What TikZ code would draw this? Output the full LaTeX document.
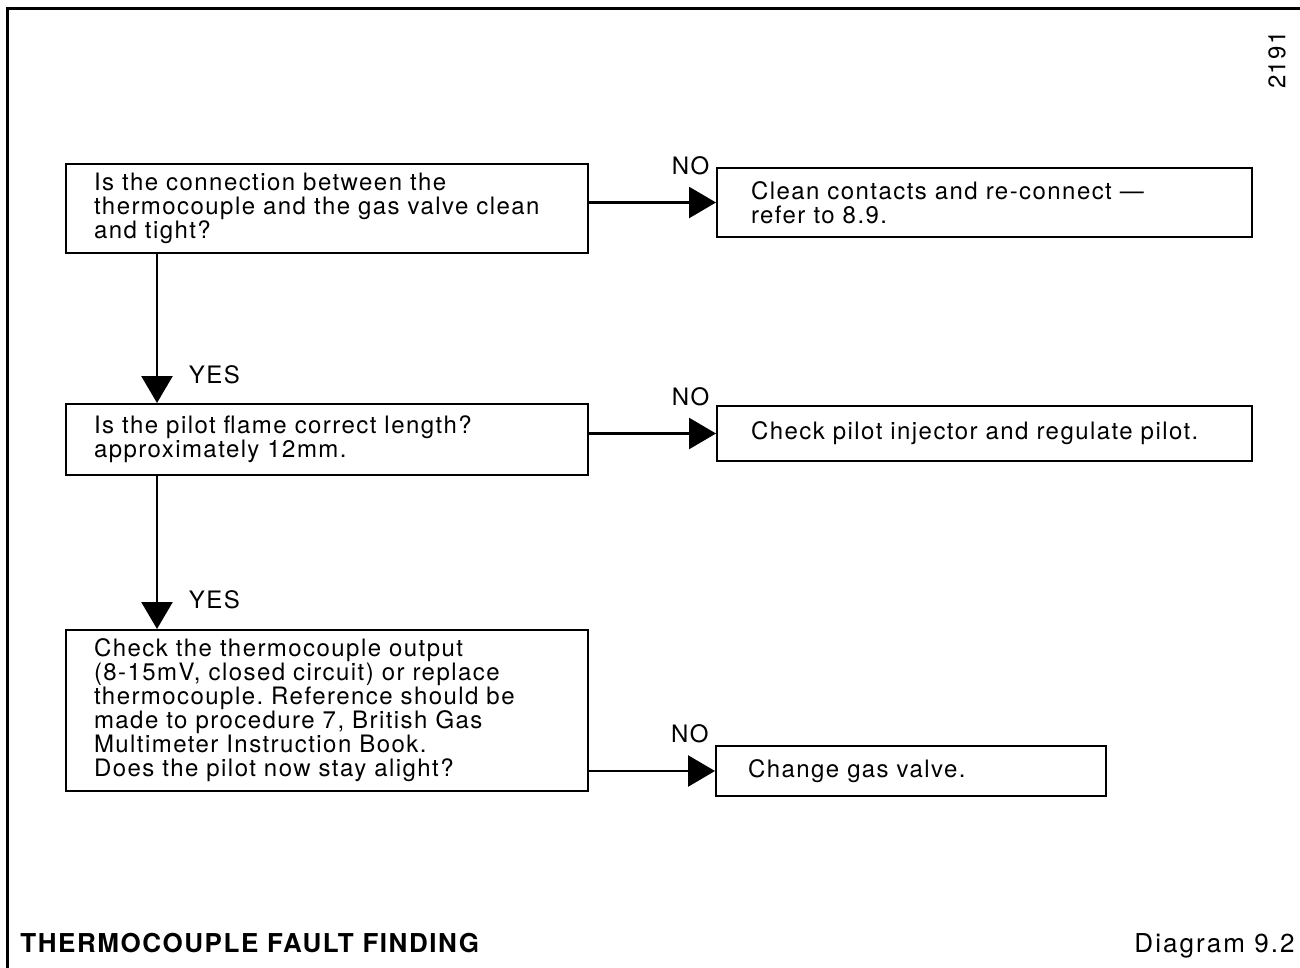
\documentclass[tikz,border=0pt]{standalone}
\usepackage{fontspec}
\setmainfont{TeX Gyre Heros}[LetterSpace=6]
\usetikzlibrary{arrows.meta}
\frenchspacing

\begin{document}
\begin{tikzpicture}[x=0.5pt,y=-0.5pt,
   query/.style={draw,line width=1pt,anchor=north west,align=left,inner xsep=14pt,inner ysep=0pt,
                 text width=233pt,font=\fontsize{12}{12}\selectfont},
   remedy/.style={query,inner xsep=17pt,text width=233.5pt},
   link/.style={line width=1.3pt,-{Triangle[length=13.5pt,width=15.5pt]}},
   answer/.style={font=\fontsize{12}{12}\selectfont}
]
\useasboundingbox (0,0) rectangle (1300,968);
% page frame
\draw[line width=1.5pt] (7,968) -- (7,9) -- (1300,9);

% questions
\node[query,minimum height=44.5pt] (b1) at (65,163)
  {Is the connection between the\\thermocouple and the gas valve clean\\and tight?};
\node[query,minimum height=35.5pt] (b2) at (65,403)
  {Is the pilot flame correct length?\\approximately 12mm.};
\node[query,minimum height=80.5pt] (b3) at (65,629)
  {Check the thermocouple output\\(8-15mV, closed circuit) or replace\\thermocouple. Reference should be\\made to procedure 7, British Gas\\Multimeter Instruction Book.\\Does the pilot now stay alight?};

% remedies
\node[remedy,minimum height=34.5pt] (n1) at (716,167)
  {Clean contacts and re-connect ---\\refer to 8.9.};
\node[remedy,minimum height=27.5pt] (n2) at (716,405)
  {Check pilot injector and regulate pilot.};
\node[remedy,inner xsep=16pt,text width=163pt,minimum height=25pt] (n3) at (715,745)
  {Change gas valve.};

\foreach \q/\r in {b1/n1,b2/n2,b3/n3}
  \draw[link] (\q.east |- \r.west) -- node[pos=0.8,above=10pt,answer]{NO} (\r.west);
\foreach \q/\r in {b1/b2,b2/b3}
  \draw[link] ([xshift=46pt]\q.south west) -- node[pos=0.81,right=12pt,answer]{YES} ([xshift=46pt]\r.north west);

% captions
\node[anchor=base west,inner sep=0pt,font=\bfseries\fontsize{13}{14}\selectfont] (title) at (20,952)
  {THERMOCOUPLE FAULT FINDING};
\node[anchor=base east,inner sep=0pt,font=\addfontfeature{LetterSpace=8}\fontsize{13}{14}\selectfont] (diag) at (1295,952)
  {Diagram 9.2};
\node[rotate=90,inner sep=0pt,font=\fontsize{12}{14}\selectfont] (ref) at (1277,60) {2191};
\end{tikzpicture}
\end{document}
